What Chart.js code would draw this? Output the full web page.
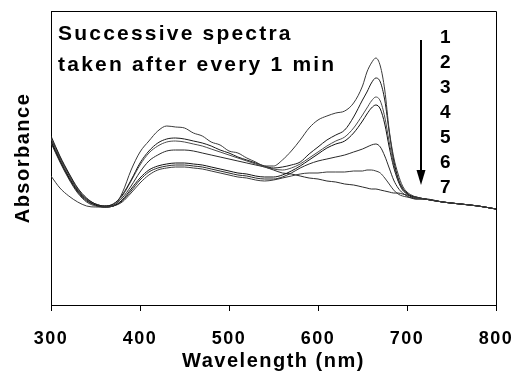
<!DOCTYPE html>
<html><head><meta charset="utf-8">
<script src="https://cdn.jsdelivr.net/npm/chart.js@4.4.1/dist/chart.umd.min.js"></script>
<style>html,body{margin:0;padding:0;background:#fff;}#wrap{width:513px;height:373px;}</style>
</head><body><div id="wrap"><canvas id="c" width="513" height="373"></canvas></div>
<script>
// Wavelength grid (nm)
const wavelengths = [300,310,320,330,340,350,360,370,380,390,400,410,420,430,440,450,460,470,480,490,500,510,520,530,540,550,560,570,580,590,600,610,620,630,640,650,655,660,665,670,675,680,685,690,695,700,705,710,720,740,760,780,800];

// Absorbance of successive spectra
const spectrum1 = [0.645,0.585,0.545,0.515,0.495,0.49,0.49,0.495,0.56,0.675,0.765,0.82,0.87,0.895,0.89,0.885,0.86,0.845,0.815,0.80,0.77,0.76,0.735,0.715,0.695,0.695,0.725,0.77,0.825,0.885,0.925,0.945,0.96,0.97,1.01,1.095,1.165,1.21,1.235,1.195,1.075,0.875,0.74,0.655,0.595,0.565,0.55,0.54,0.53,0.515,0.505,0.495,0.48];
const spectrum2 = [0.845,0.745,0.66,0.585,0.535,0.505,0.495,0.505,0.55,0.625,0.71,0.77,0.81,0.83,0.835,0.83,0.82,0.81,0.795,0.775,0.76,0.74,0.725,0.71,0.695,0.685,0.69,0.70,0.715,0.755,0.79,0.825,0.85,0.875,0.94,1.025,1.065,1.11,1.135,1.115,1.025,0.865,0.725,0.635,0.585,0.56,0.545,0.54,0.53,0.515,0.505,0.495,0.48];
const spectrum3 = [0.835,0.74,0.655,0.58,0.53,0.505,0.495,0.505,0.545,0.62,0.70,0.76,0.795,0.815,0.82,0.815,0.805,0.795,0.78,0.765,0.75,0.735,0.72,0.705,0.69,0.68,0.675,0.685,0.705,0.735,0.765,0.795,0.82,0.84,0.885,0.95,0.985,1.02,1.04,1.02,0.94,0.815,0.705,0.625,0.58,0.555,0.545,0.535,0.53,0.515,0.505,0.495,0.48];
const spectrum4 = [0.82,0.725,0.64,0.57,0.525,0.50,0.49,0.495,0.525,0.58,0.635,0.675,0.695,0.705,0.71,0.71,0.705,0.70,0.69,0.68,0.67,0.66,0.655,0.645,0.64,0.64,0.65,0.67,0.695,0.725,0.755,0.785,0.805,0.82,0.86,0.92,0.955,0.985,1.00,0.98,0.905,0.79,0.69,0.62,0.575,0.555,0.54,0.535,0.53,0.515,0.505,0.495,0.48];
const spectrum5 = [0.815,0.72,0.635,0.565,0.52,0.50,0.49,0.495,0.52,0.57,0.625,0.665,0.685,0.695,0.70,0.70,0.695,0.69,0.68,0.67,0.66,0.65,0.645,0.635,0.63,0.63,0.64,0.66,0.685,0.705,0.72,0.73,0.74,0.75,0.765,0.78,0.79,0.80,0.805,0.79,0.745,0.685,0.625,0.585,0.56,0.545,0.535,0.53,0.53,0.515,0.505,0.495,0.48];
const spectrum6 = [0.81,0.715,0.63,0.56,0.515,0.495,0.49,0.495,0.515,0.56,0.61,0.65,0.675,0.685,0.69,0.69,0.685,0.68,0.67,0.66,0.65,0.64,0.635,0.625,0.62,0.625,0.635,0.645,0.655,0.66,0.66,0.665,0.665,0.665,0.67,0.67,0.675,0.675,0.67,0.66,0.635,0.605,0.575,0.555,0.545,0.54,0.535,0.53,0.53,0.515,0.505,0.495,0.48];
const spectrum7 = [0.83,0.735,0.65,0.575,0.53,0.505,0.495,0.50,0.535,0.595,0.665,0.72,0.75,0.77,0.775,0.775,0.77,0.76,0.75,0.74,0.73,0.72,0.71,0.70,0.69,0.675,0.66,0.655,0.645,0.635,0.63,0.62,0.615,0.605,0.60,0.59,0.585,0.58,0.58,0.575,0.57,0.565,0.56,0.56,0.555,0.55,0.545,0.54,0.53,0.515,0.505,0.495,0.48];

const spectra = [spectrum1,spectrum2,spectrum3,spectrum4,spectrum5,spectrum6,spectrum7];
const lineColors = ['#3a3a3a','#1a1a1a','#4a4a4a','#111111','#2a2a2a','#3a3a3a','#2a2a2a'];

const xTicks = [300,400,500,600,700,800];
const curveLabels = ['1','2','3','4','5','6','7'];
const curveLabelY = [1.335,1.21,1.085,0.96,0.835,0.71,0.585];
const curveLabelX = 743;
const arrowX = 716, arrowTop = 1.325, arrowTip = 0.60;
const noteLines = ['Successive spectra','taken after every 1 min'];
const noteX = 308;
const noteY = [1.325, 1.17];

const FONT = "'Liberation Sans', Arial, Helvetica, sans-serif";

const annot = {
  id: 'annot',
  beforeDraw(chart) { chart.ctx.letterSpacing = '1.5px'; },
  afterDraw(chart) {
    const {ctx, chartArea: a, scales: {x, y}} = chart;
    ctx.save();
    ctx.strokeStyle = '#000'; ctx.lineWidth = 1;
    ctx.beginPath();
    ctx.moveTo(a.left, a.top + 0.5); ctx.lineTo(a.right + 0.5, a.top + 0.5);
    ctx.lineTo(a.right + 0.5, a.bottom);
    ctx.stroke();
    // note text
    ctx.fillStyle = '#000';
    ctx.font = 'bold 21px ' + FONT;
    ctx.letterSpacing = '2.2px';
    ctx.textAlign = 'left'; ctx.textBaseline = 'alphabetic';
    noteLines.forEach((t, i) => ctx.fillText(t, x.getPixelForValue(noteX), y.getPixelForValue(noteY[i])));
    // numbers
    ctx.font = 'bold 19px ' + FONT;
    ctx.letterSpacing = '0px';
    ctx.textAlign = 'center'; ctx.textBaseline = 'middle';
    curveLabels.forEach((t, i) => ctx.fillText(t, x.getPixelForValue(curveLabelX), y.getPixelForValue(curveLabelY[i])));
    // arrow
    const ax = Math.round(x.getPixelForValue(arrowX));
    const ay0 = y.getPixelForValue(arrowTop), ay1 = y.getPixelForValue(arrowTip);
    ctx.lineWidth = 2;
    ctx.beginPath(); ctx.moveTo(ax, ay0); ctx.lineTo(ax, ay1 - 10); ctx.stroke();
    ctx.beginPath(); ctx.moveTo(ax - 4.5, ay1 - 15); ctx.lineTo(ax + 4.5, ay1 - 15); ctx.lineTo(ax, ay1); ctx.closePath(); ctx.fill();
    ctx.restore();
  }
};

new Chart(document.getElementById('c'), {
  type: 'line',
  data: {
    datasets: spectra.map((s, k) => ({
      label: String(k + 1),
      data: wavelengths.map((w, i) => ({x: w, y: s[i]})),
      borderColor: lineColors[k],
      borderWidth: 1,
      pointRadius: 0,
      fill: false,
      cubicInterpolationMode: 'monotone'
    }))
  },
  options: {
    responsive: false, animation: false, devicePixelRatio: 1,
    layout: {padding: {left: 0, right: 17, top: 11, bottom: 0}},
    plugins: {legend: {display: false}, tooltip: {enabled: false}},
    scales: {
      x: {
        type: 'linear', min: 300, max: 800,
        afterBuildTicks: (s) => { s.ticks = xTicks.map(v => ({value: v})); },
        ticks: {color: '#000', font: {family: FONT, size: 18, weight: 'bold'}, padding: 17, maxRotation: 0},
        grid: {drawOnChartArea: false, drawTicks: true, tickLength: 6, color: '#000'},
        border: {display: true, color: '#000', width: 1},
        title: {display: true, text: 'Wavelength (nm)', color: '#000', font: {family: FONT, size: 20, weight: 'bold'}, padding: {top: 0, bottom: 0}},
        afterFit: (s) => { s.height = 68; s.paddingLeft = 0; s.paddingRight = 0; }
      },
      y: {
        min: 0, max: 1.47,
        ticks: {display: false},
        grid: {display: false},
        border: {display: true, color: '#000', width: 1},
        title: {display: true, text: 'Absorbance', color: '#000', font: {family: FONT, size: 20, weight: 'bold'}, padding: {top: 11, bottom: 0}},
        afterFit: (s) => { s.width = 51; s.paddingTop = 0; s.paddingBottom = 0; }
      }
    }
  },
  plugins: [annot]
});
</script></body></html>
